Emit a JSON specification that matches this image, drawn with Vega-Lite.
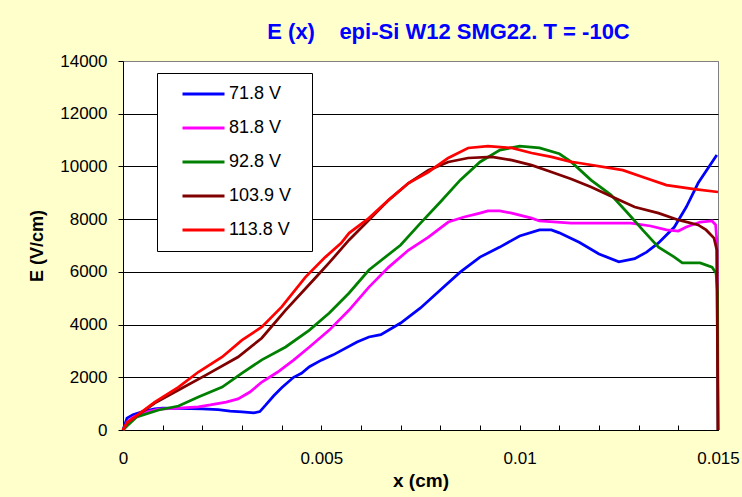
{
  "$schema": "https://vega.github.io/schema/vega-lite/v6.json",
  "width": 595,
  "height": 369,
  "autosize": {"type": "none"},
  "padding": {"left": 123, "top": 61, "right": 24, "bottom": 67},
  "background": "#FFFFCC",
  "title": {
    "text": "E (x) \u00a0\u00a0 epi-Si W12 SMG22. T = -10C",
    "anchor": "middle",
    "frame": "group",
    "dx": 28,
    "dy": 23,
    "fontSize": 22,
    "fontWeight": "bold",
    "font": "Liberation Sans",
    "color": "#0000FF",
    "baseline": "alphabetic",
    "offset": 14
  },
  "datasets": {
    "curves": [
      {"s": "71.8 V", "x": 0, "e": 0},
      {"s": "71.8 V", "x": 0.0001, "e": 450},
      {"s": "71.8 V", "x": 0.00025, "e": 580},
      {"s": "71.8 V", "x": 0.0005, "e": 700},
      {"s": "71.8 V", "x": 0.0008, "e": 800},
      {"s": "71.8 V", "x": 0.001, "e": 830},
      {"s": "71.8 V", "x": 0.0014, "e": 820},
      {"s": "71.8 V", "x": 0.002, "e": 800},
      {"s": "71.8 V", "x": 0.0024, "e": 770},
      {"s": "71.8 V", "x": 0.0027, "e": 720},
      {"s": "71.8 V", "x": 0.003, "e": 690},
      {"s": "71.8 V", "x": 0.0033, "e": 650},
      {"s": "71.8 V", "x": 0.00345, "e": 700},
      {"s": "71.8 V", "x": 0.0036, "e": 950},
      {"s": "71.8 V", "x": 0.0038, "e": 1300},
      {"s": "71.8 V", "x": 0.004, "e": 1600},
      {"s": "71.8 V", "x": 0.0043, "e": 2000},
      {"s": "71.8 V", "x": 0.0045, "e": 2150},
      {"s": "71.8 V", "x": 0.0047, "e": 2400},
      {"s": "71.8 V", "x": 0.005, "e": 2650},
      {"s": "71.8 V", "x": 0.0053, "e": 2850},
      {"s": "71.8 V", "x": 0.0059, "e": 3340},
      {"s": "71.8 V", "x": 0.0062, "e": 3530},
      {"s": "71.8 V", "x": 0.0065, "e": 3620},
      {"s": "71.8 V", "x": 0.007, "e": 4060},
      {"s": "71.8 V", "x": 0.0075, "e": 4630},
      {"s": "71.8 V", "x": 0.008, "e": 5310},
      {"s": "71.8 V", "x": 0.0085, "e": 5990},
      {"s": "71.8 V", "x": 0.009, "e": 6560},
      {"s": "71.8 V", "x": 0.0095, "e": 6940},
      {"s": "71.8 V", "x": 0.01, "e": 7360},
      {"s": "71.8 V", "x": 0.0105, "e": 7590},
      {"s": "71.8 V", "x": 0.0108, "e": 7590},
      {"s": "71.8 V", "x": 0.011, "e": 7480},
      {"s": "71.8 V", "x": 0.0115, "e": 7120},
      {"s": "71.8 V", "x": 0.012, "e": 6680},
      {"s": "71.8 V", "x": 0.0125, "e": 6380},
      {"s": "71.8 V", "x": 0.0129, "e": 6500},
      {"s": "71.8 V", "x": 0.0132, "e": 6750},
      {"s": "71.8 V", "x": 0.0135, "e": 7100},
      {"s": "71.8 V", "x": 0.0139, "e": 7700},
      {"s": "71.8 V", "x": 0.0142, "e": 8460},
      {"s": "71.8 V", "x": 0.0145, "e": 9370},
      {"s": "71.8 V", "x": 0.01497, "e": 10430},

      {"s": "81.8 V", "x": 0, "e": 0},
      {"s": "81.8 V", "x": 0.0001, "e": 300},
      {"s": "81.8 V", "x": 0.00025, "e": 480},
      {"s": "81.8 V", "x": 0.0005, "e": 650},
      {"s": "81.8 V", "x": 0.0009, "e": 790},
      {"s": "81.8 V", "x": 0.0014, "e": 830},
      {"s": "81.8 V", "x": 0.0019, "e": 880},
      {"s": "81.8 V", "x": 0.0022, "e": 950},
      {"s": "81.8 V", "x": 0.0026, "e": 1060},
      {"s": "81.8 V", "x": 0.0029, "e": 1180},
      {"s": "81.8 V", "x": 0.0032, "e": 1440},
      {"s": "81.8 V", "x": 0.0035, "e": 1820},
      {"s": "81.8 V", "x": 0.0039, "e": 2200},
      {"s": "81.8 V", "x": 0.0043, "e": 2650},
      {"s": "81.8 V", "x": 0.0047, "e": 3150},
      {"s": "81.8 V", "x": 0.0052, "e": 3790},
      {"s": "81.8 V", "x": 0.0057, "e": 4550},
      {"s": "81.8 V", "x": 0.0062, "e": 5420},
      {"s": "81.8 V", "x": 0.0067, "e": 6180},
      {"s": "81.8 V", "x": 0.0072, "e": 6830},
      {"s": "81.8 V", "x": 0.0077, "e": 7320},
      {"s": "81.8 V", "x": 0.0082, "e": 7890},
      {"s": "81.8 V", "x": 0.0086, "e": 8080},
      {"s": "81.8 V", "x": 0.009, "e": 8230},
      {"s": "81.8 V", "x": 0.0092, "e": 8310},
      {"s": "81.8 V", "x": 0.0095, "e": 8310},
      {"s": "81.8 V", "x": 0.0098, "e": 8230},
      {"s": "81.8 V", "x": 0.0103, "e": 8040},
      {"s": "81.8 V", "x": 0.0105, "e": 7930},
      {"s": "81.8 V", "x": 0.0113, "e": 7850},
      {"s": "81.8 V", "x": 0.0128, "e": 7850},
      {"s": "81.8 V", "x": 0.0133, "e": 7740},
      {"s": "81.8 V", "x": 0.0137, "e": 7590},
      {"s": "81.8 V", "x": 0.014, "e": 7550},
      {"s": "81.8 V", "x": 0.0142, "e": 7700},
      {"s": "81.8 V", "x": 0.01455, "e": 7890},
      {"s": "81.8 V", "x": 0.01485, "e": 7930},
      {"s": "81.8 V", "x": 0.01494, "e": 7780},
      {"s": "81.8 V", "x": 0.01497, "e": 7210},
      {"s": "81.8 V", "x": 0.015, "e": 0},

      {"s": "92.8 V", "x": 0, "e": 0},
      {"s": "92.8 V", "x": 0.0001, "e": 150},
      {"s": "92.8 V", "x": 0.00035, "e": 500},
      {"s": "92.8 V", "x": 0.0009, "e": 760},
      {"s": "92.8 V", "x": 0.0014, "e": 910},
      {"s": "92.8 V", "x": 0.0019, "e": 1250},
      {"s": "92.8 V", "x": 0.0025, "e": 1630},
      {"s": "92.8 V", "x": 0.003, "e": 2160},
      {"s": "92.8 V", "x": 0.0035, "e": 2660},
      {"s": "92.8 V", "x": 0.0041, "e": 3150},
      {"s": "92.8 V", "x": 0.0047, "e": 3790},
      {"s": "92.8 V", "x": 0.0052, "e": 4440},
      {"s": "92.8 V", "x": 0.0057, "e": 5200},
      {"s": "92.8 V", "x": 0.0062, "e": 6070},
      {"s": "92.8 V", "x": 0.007, "e": 7020},
      {"s": "92.8 V", "x": 0.0075, "e": 7850},
      {"s": "92.8 V", "x": 0.008, "e": 8650},
      {"s": "92.8 V", "x": 0.0085, "e": 9480},
      {"s": "92.8 V", "x": 0.009, "e": 10170},
      {"s": "92.8 V", "x": 0.0095, "e": 10620},
      {"s": "92.8 V", "x": 0.01, "e": 10770},
      {"s": "92.8 V", "x": 0.0105, "e": 10700},
      {"s": "92.8 V", "x": 0.011, "e": 10480},
      {"s": "92.8 V", "x": 0.0113, "e": 10170},
      {"s": "92.8 V", "x": 0.0118, "e": 9480},
      {"s": "92.8 V", "x": 0.0123, "e": 8920},
      {"s": "92.8 V", "x": 0.0127, "e": 8270},
      {"s": "92.8 V", "x": 0.0131, "e": 7590},
      {"s": "92.8 V", "x": 0.0135, "e": 6940},
      {"s": "92.8 V", "x": 0.0139, "e": 6560},
      {"s": "92.8 V", "x": 0.0141, "e": 6340},
      {"s": "92.8 V", "x": 0.01455, "e": 6340},
      {"s": "92.8 V", "x": 0.01485, "e": 6180},
      {"s": "92.8 V", "x": 0.01495, "e": 5960},
      {"s": "92.8 V", "x": 0.01499, "e": 5200},
      {"s": "92.8 V", "x": 0.015, "e": 0},

      {"s": "103.9 V", "x": 0, "e": 0},
      {"s": "103.9 V", "x": 0.0001, "e": 270},
      {"s": "103.9 V", "x": 0.0008, "e": 1020},
      {"s": "103.9 V", "x": 0.0014, "e": 1520},
      {"s": "103.9 V", "x": 0.0021, "e": 2090},
      {"s": "103.9 V", "x": 0.0029, "e": 2770},
      {"s": "103.9 V", "x": 0.0035, "e": 3490},
      {"s": "103.9 V", "x": 0.0041, "e": 4550},
      {"s": "103.9 V", "x": 0.0048, "e": 5690},
      {"s": "103.9 V", "x": 0.0052, "e": 6350},
      {"s": "103.9 V", "x": 0.0057, "e": 7210},
      {"s": "103.9 V", "x": 0.0062, "e": 7970},
      {"s": "103.9 V", "x": 0.0067, "e": 8730},
      {"s": "103.9 V", "x": 0.0072, "e": 9370},
      {"s": "103.9 V", "x": 0.0077, "e": 9860},
      {"s": "103.9 V", "x": 0.0082, "e": 10170},
      {"s": "103.9 V", "x": 0.0087, "e": 10320},
      {"s": "103.9 V", "x": 0.0093, "e": 10360},
      {"s": "103.9 V", "x": 0.0098, "e": 10240},
      {"s": "103.9 V", "x": 0.0103, "e": 10050},
      {"s": "103.9 V", "x": 0.0108, "e": 9790},
      {"s": "103.9 V", "x": 0.0113, "e": 9520},
      {"s": "103.9 V", "x": 0.0118, "e": 9220},
      {"s": "103.9 V", "x": 0.0124, "e": 8800},
      {"s": "103.9 V", "x": 0.0129, "e": 8460},
      {"s": "103.9 V", "x": 0.0135, "e": 8230},
      {"s": "103.9 V", "x": 0.014, "e": 7970},
      {"s": "103.9 V", "x": 0.0145, "e": 7780},
      {"s": "103.9 V", "x": 0.0147, "e": 7590},
      {"s": "103.9 V", "x": 0.0149, "e": 7280},
      {"s": "103.9 V", "x": 0.01497, "e": 6830},
      {"s": "103.9 V", "x": 0.015, "e": 0},

      {"s": "113.8 V", "x": 0, "e": 0},
      {"s": "113.8 V", "x": 0.0001, "e": 270},
      {"s": "113.8 V", "x": 0.0008, "e": 1060},
      {"s": "113.8 V", "x": 0.0014, "e": 1630},
      {"s": "113.8 V", "x": 0.0019, "e": 2200},
      {"s": "113.8 V", "x": 0.0025, "e": 2770},
      {"s": "113.8 V", "x": 0.003, "e": 3410},
      {"s": "113.8 V", "x": 0.0035, "e": 3910},
      {"s": "113.8 V", "x": 0.004, "e": 4670},
      {"s": "113.8 V", "x": 0.0046, "e": 5800},
      {"s": "113.8 V", "x": 0.0051, "e": 6560},
      {"s": "113.8 V", "x": 0.0055, "e": 7090},
      {"s": "113.8 V", "x": 0.0057, "e": 7470},
      {"s": "113.8 V", "x": 0.0062, "e": 8040},
      {"s": "113.8 V", "x": 0.0067, "e": 8730},
      {"s": "113.8 V", "x": 0.0072, "e": 9370},
      {"s": "113.8 V", "x": 0.0077, "e": 9790},
      {"s": "113.8 V", "x": 0.0082, "e": 10320},
      {"s": "113.8 V", "x": 0.0087, "e": 10700},
      {"s": "113.8 V", "x": 0.0092, "e": 10770},
      {"s": "113.8 V", "x": 0.0098, "e": 10700},
      {"s": "113.8 V", "x": 0.0103, "e": 10510},
      {"s": "113.8 V", "x": 0.0108, "e": 10360},
      {"s": "113.8 V", "x": 0.0113, "e": 10170},
      {"s": "113.8 V", "x": 0.0115, "e": 10130},
      {"s": "113.8 V", "x": 0.0126, "e": 9860},
      {"s": "113.8 V", "x": 0.0131, "e": 9600},
      {"s": "113.8 V", "x": 0.0137, "e": 9290},
      {"s": "113.8 V", "x": 0.0144, "e": 9140},
      {"s": "113.8 V", "x": 0.015, "e": 9030}
    ]
  },
  "data": {"name": "curves"},
  "mark": {"type": "line", "strokeWidth": 2.75},
  "encoding": {
    "x": {
      "field": "x",
      "type": "quantitative",
      "scale": {"domain": [0, 0.015], "nice": false, "zero": false},
      "axis": {
        "title": "x (cm)",
        "values": [0, 0.001, 0.002, 0.003, 0.004, 0.005, 0.006, 0.007, 0.008, 0.009, 0.01, 0.011, 0.012, 0.013, 0.014, 0.015],
        "labelExpr": "round(datum.value * 1000) % 5 == 0 ? format(datum.value, '~g') : ''",
        "labelFlush": false,
        "labelOverlap": false,
        "grid": false,
        "tickSize": -5,
        "tickColor": "black",
        "domainColor": "black",
        "labelFont": "Liberation Sans",
        "labelFontSize": 17,
        "labelColor": "black",
        "labelPadding": 25,
        "titleFont": "Liberation Sans",
        "titleFontSize": 19,
        "titleFontWeight": "bold",
        "titleColor": "black",
        "titlePadding": 5
      }
    },
    "y": {
      "field": "e",
      "type": "quantitative",
      "scale": {"domain": [0, 14000], "nice": false},
      "axis": {
        "title": "E (V/cm)",
        "values": [0, 2000, 4000, 6000, 8000, 10000, 12000, 14000],
        "format": "d",
        "grid": true,
        "gridColor": {"condition": {"test": "datum.value == 14000", "value": "#808080"}, "value": "black"},
        "gridWidth": 1,
        "tickSize": 5,
        "tickColor": "black",
        "domainColor": "black",
        "labelFont": "Liberation Sans",
        "labelFontSize": 17,
        "labelColor": "black",
        "labelPadding": 11,
        "titleFont": "Liberation Sans",
        "titleFontSize": 18,
        "titleFontWeight": "bold",
        "titleColor": "black",
        "titlePadding": 13
      }
    },
    "color": {
      "field": "s",
      "type": "nominal",
      "scale": {
        "domain": ["71.8 V", "81.8 V", "92.8 V", "103.9 V", "113.8 V"],
        "range": ["#0000FF", "#FF00FF", "#008000", "#800000", "#FF0000"]
      },
      "legend": {
        "orient": "none",
        "legendX": 34,
        "legendY": 12,
        "title": "\u00a0",
        "titleOrient": "right",
        "titlePadding": 10,
        "titleFontSize": 1,
        "fillColor": "white",
        "strokeColor": "black",
        "padding": 11,
        "symbolType": "stroke",
        "symbolSize": 1764,
        "symbolStrokeWidth": 3,
        "clipHeight": 20,
        "rowPadding": 14,
        "symbolOffset": 13,
        "labelOffset": 3,
        "labelFont": "Liberation Sans",
        "labelFontSize": 18,
        "labelColor": "black"
      }
    }
  },
  "config": {
    "view": {"stroke": "#808080", "fill": "white"},
    "font": "Liberation Sans"
  }
}
